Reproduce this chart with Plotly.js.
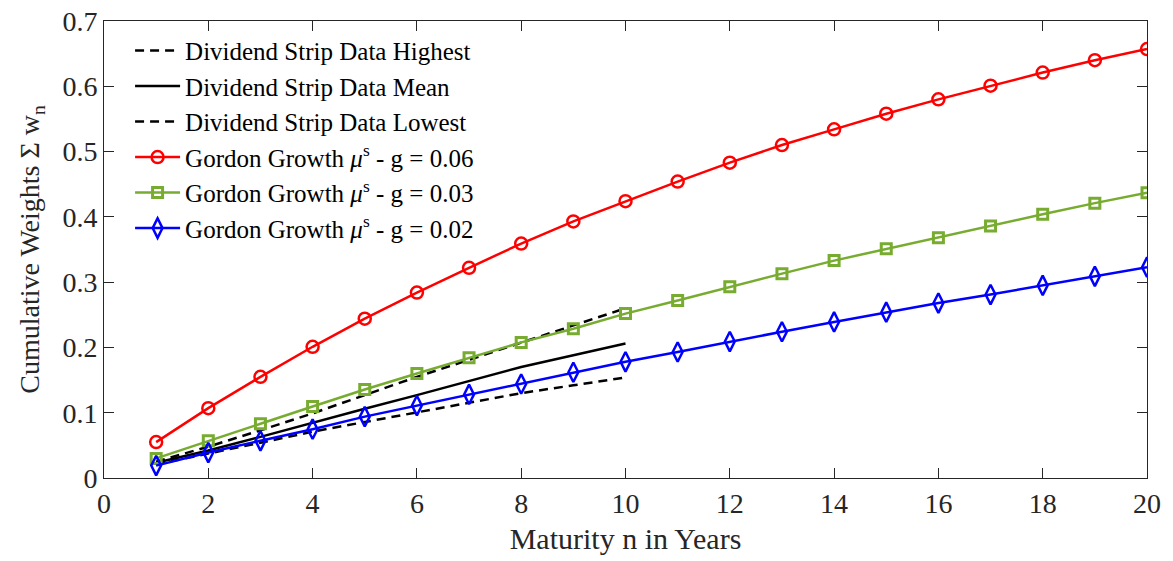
<!DOCTYPE html>
<html>
<head>
<meta charset="utf-8">
<script src="https://cdn.plot.ly/plotly-3.0.1.min.js"></script>
<style>html,body{margin:0;padding:0;background:#fff;}#chart{width:1173px;height:561px;}</style>
</head>
<body>
<div id="chart"></div>
<script>
const maturity = [1,2,3,4,5,6,7,8,9,10,11,12,13,14,15,16,17,18,19,20];
const stripMaturity = [1,2,3,4,5,6,7,8,9,10];
const stripHighest = [0.025,0.048,0.073,0.099,0.127,0.155,0.181,0.207,0.234,0.260];
const stripMean    = [0.0235,0.042,0.063,0.085,0.106,0.127,0.149,0.170,0.188,0.206];
const stripLowest  = [0.021,0.037,0.054,0.071,0.086,0.100,0.115,0.130,0.142,0.154];
const gordon06 = [0.055,0.107,0.155,0.201,0.244,0.284,0.322,0.359,0.393,0.424,0.454,0.483,0.510,0.534,0.558,0.580,0.601,0.621,0.640,0.657];
const gordon03 = [0.030,0.057,0.083,0.1095,0.1356,0.160,0.184,0.2077,0.2287,0.2518,0.272,0.293,0.313,0.333,0.351,0.368,0.386,0.404,0.421,0.437];
const gordon02 = [0.019,0.039,0.057,0.0747,0.094,0.111,0.128,0.144,0.162,0.178,0.193,0.209,0.224,0.239,0.254,0.268,0.281,0.295,0.309,0.323];
const names = [
  'Dividend Strip Data Highest',
  'Dividend Strip Data Mean',
  'Dividend Strip Data Lowest',
  'Gordon Growth <i>μ</i><sup>s</sup> - g = 0.06',
  'Gordon Growth <i>μ</i><sup>s</sup> - g = 0.03',
  'Gordon Growth <i>μ</i><sup>s</sup> - g = 0.02'
];

const traces = [
  {x: stripMaturity, y: stripHighest, name: names[0], mode: 'lines', line: {color: '#000', width: 2.5, dash: '9px,6px'}},
  {x: stripMaturity, y: stripMean, name: names[1], mode: 'lines', line: {color: '#000', width: 2.5}},
  {x: stripMaturity, y: stripLowest, name: names[2], mode: 'lines', line: {color: '#000', width: 2.5, dash: '9px,6px'}},
  {x: maturity, y: gordon06, name: names[3], mode: 'lines+markers', line: {color: '#ff0000', width: 2.5},
   marker: {symbol: 'circle-open', size: 12, color: '#ff0000', line: {width: 2.5, color: '#ff0000'}}},
  {x: maturity, y: gordon03, name: names[4], mode: 'lines+markers', line: {color: '#77ac30', width: 2.5},
   marker: {symbol: 'square-open', size: 10, color: '#77ac30', line: {width: 3, color: '#77ac30'}}},
  {x: maturity, y: gordon02, name: names[5], mode: 'lines+markers', line: {color: '#0000ff', width: 2.5},
   marker: {symbol: 'diamond-tall-open', size: 14, color: '#0000ff', line: {width: 2.5, color: '#0000ff'}}}
];

const font = {family: '"Liberation Serif", "Times New Roman", serif', color: '#262626'};
const layout = {
  width: 1173, height: 561,
  margin: {l: 104, r: 26, t: 21, b: 83},
  paper_bgcolor: '#fff', plot_bgcolor: '#fff',
  font: Object.assign({size: 26}, font),
  showlegend: true,
  legend: {x: 0.025, y: 0.985, xanchor: 'left', yanchor: 'top', bgcolor: 'rgba(0,0,0,0)',
    font: Object.assign({size: 25}, font, {color: '#000'}), itemwidth: 45, tracegroupgap: 0},
  xaxis: {range: [0, 20], dtick: 2, tick0: 0, ticks: 'inside', ticklen: 10, tickwidth: 1, tickcolor: '#262626',
    showline: true, linecolor: '#262626', linewidth: 1, mirror: 'ticks', showgrid: false, zeroline: false,
    tickfont: Object.assign({size: 28}, font),
    title: {text: 'Maturity n in Years', font: Object.assign({size: 30}, font), standoff: 10}},
  yaxis: {range: [0, 0.7], dtick: 0.1, tick0: 0, ticks: 'inside', ticklen: 10, tickwidth: 1, tickcolor: '#262626',
    showline: true, linecolor: '#262626', linewidth: 1, mirror: 'ticks', showgrid: false, zeroline: false,
    tickfont: Object.assign({size: 28}, font),
    title: {text: 'Cumulative Weights Σ w<sub>n</sub>', font: Object.assign({size: 28}, font), standoff: 14}}
};
Plotly.newPlot('chart', traces, layout, {displayModeBar: false, staticPlot: true});
</script>
</body>
</html>
